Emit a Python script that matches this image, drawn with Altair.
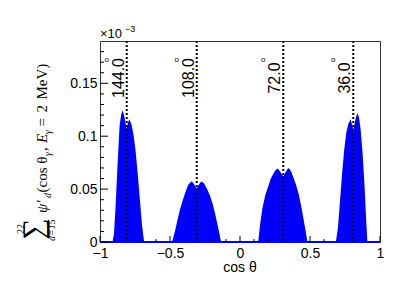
import altair as alt
import pandas as pd

# ---- data (values in units of 1e-3) ----
peak1_x = [-0.91, -0.90, -0.89, -0.875, -0.86, -0.848, -0.838, -0.825, -0.81, -0.80, -0.79, -0.775, -0.76, -0.745, -0.73, -0.715, -0.70, -0.685]
peak1_y = [0, 0.008, 0.030, 0.072, 0.110, 0.121, 0.1245, 0.118, 0.107, 0.113, 0.116, 0.111, 0.101, 0.085, 0.064, 0.040, 0.016, 0]
peak2_x = [-0.485, -0.465, -0.45, -0.43, -0.41, -0.39, -0.37, -0.345, -0.325, -0.309, -0.29, -0.274, -0.255, -0.235, -0.215, -0.195, -0.175, -0.155, -0.135]
peak2_y = [0, 0.010, 0.019, 0.030, 0.039, 0.047, 0.054, 0.0575, 0.054, 0.0505, 0.055, 0.0575, 0.055, 0.050, 0.044, 0.036, 0.025, 0.013, 0]
peak3_x = [0.13, 0.145, 0.16, 0.18, 0.2, 0.22, 0.24, 0.255, 0.27, 0.29, 0.309, 0.325, 0.345, 0.36, 0.38, 0.40, 0.42, 0.44, 0.46, 0.482]
peak3_y = [0, 0.018, 0.032, 0.044, 0.052, 0.060, 0.065, 0.068, 0.0695, 0.066, 0.062, 0.066, 0.070, 0.068, 0.0617, 0.054, 0.045, 0.032, 0.017, 0]
peak4_x = [0.685, 0.70, 0.715, 0.73, 0.745, 0.76, 0.775, 0.79, 0.81, 0.825, 0.838, 0.85, 0.862, 0.875, 0.89, 0.90, 0.91]
peak4_y = [0, 0.014, 0.040, 0.066, 0.088, 0.104, 0.112, 0.116, 0.106, 0.116, 0.122, 0.118, 0.106, 0.085, 0.052, 0.024, 0]

angles = [144.0, 108.0, 72.0, 36.0]
angle_labels = ["144.0", "108.0", "72.0", "36.0"]

y_major = [0, 0.05, 0.1, 0.15]
y_minor = [0.01, 0.02, 0.03, 0.04, 0.06, 0.07, 0.08, 0.09, 0.11, 0.12, 0.13, 0.14, 0.16, 0.17, 0.18]
x_major = [-1, -0.5, 0, 0.5, 1]
x_minor = [-0.9, -0.8, -0.7, -0.6, -0.4, -0.3, -0.2, -0.1, 0.1, 0.2, 0.3, 0.4, 0.6, 0.7, 0.8, 0.9]

xs = [-1.0] + peak1_x + peak2_x + peak3_x + peak4_x + [1.0]
ys = [0.0] + peak1_y + peak2_y + peak3_y + peak4_y + [0.0]
curve = pd.DataFrame({"c": xs, "v": ys})

W, H = 280, 201
XS = alt.Scale(domain=[-1, 1], nice=False, zero=False)
YS = alt.Scale(domain=[0, 0.19], nice=False)
SANS = "Liberation Sans"
SERIF = "Liberation Serif"
BLUE = "#0000ff"

area = alt.Chart(curve).mark_area(color=BLUE, interpolate="linear").encode(
    x=alt.X("c:Q", scale=XS, axis=alt.Axis(values=x_major, format="~g", title=None,
                                           labelPadding=4, labelFlush=False)),
    y=alt.Y("v:Q", scale=YS, axis=alt.Axis(values=y_major, format="~g", title=None,
                                           labelPadding=3, labelFlush=False)),
)

base_line = alt.Chart(curve).mark_rule(color=BLUE, strokeWidth=1.5).encode(
    y=alt.datum(0, scale=YS, axis=None)
)

ang_df = pd.DataFrame({"a": angles, "t": angle_labels})
ang = alt.Chart(ang_df).transform_calculate(cx="cos(datum.a*PI/180)")
dotted = ang.mark_rule(color="black", strokeDash=[2, 2], strokeWidth=2).encode(
    x=alt.X("cx:Q", scale=XS, axis=None)
)
ang_text = ang.mark_text(angle=270, align="center", baseline="bottom", font=SANS,
                         fontSize=16, dx=-1).encode(
    x=alt.X("cx:Q", scale=XS, axis=None), y=alt.value(36), text="t:N"
)
deg_text = ang.mark_text(align="center", baseline="middle", font=SANS, fontSize=8, dx=-20).encode(
    x=alt.X("cx:Q", scale=XS, axis=None), y=alt.value(19), text=alt.value("o")
)

def ticks_y(vals, length):
    return alt.Chart(pd.DataFrame({"v": vals})).mark_rule(color="black", strokeWidth=1).encode(
        y=alt.Y("v:Q", scale=YS, axis=None), x=alt.value(0), x2=alt.value(length)
    )

def ticks_x(vals, length):
    return alt.Chart(pd.DataFrame({"v": vals})).mark_rule(color="black", strokeWidth=1).encode(
        x=alt.X("v:Q", scale=XS, axis=None), y=alt.value(H), y2=alt.value(H - length)
    )

one = pd.DataFrame({"k": [0]})

def label(text, x, y, size, font=SANS, angle=0, align="left", baseline="alphabetic", style="normal"):
    return alt.Chart(one).mark_text(text=text, font=font, fontSize=size, angle=angle, align=align,
                                    baseline=baseline, fontStyle=style, color="black").encode(
        x=alt.value(x), y=alt.value(y)
    )

annots = [
    label("\u00d710", 0, -3, 13),
    label("\u22123", 25, -9, 9),
    label("cos \u03b8", 140, 231, 14, align="center"),
    # y-axis title pieces (rotated)
    label("\u2211", -66, 188, 30, font=SERIF, angle=270, align="center", baseline="middle"),
    label("22", -79, 188, 10, font=SERIF, angle=270, align="center", baseline="middle"),
    label("d=15", -48, 189, 10, font=SERIF, angle=270, align="center", baseline="middle", style="italic"),
    label("\u03c8\u2032", -53, 172, 15, font=SERIF, angle=270, style="italic"),
    label("d", -49, 157, 10, font=SERIF, angle=270, style="italic"),
    label("(cos \u03b8", -53, 151.5, 15, font=SERIF, angle=270),
    label("\u03b3", -49, 115, 10, font=SERIF, angle=270, style="italic"),
    label(",", -53, 110, 15, font=SERIF, angle=270),
    label("E", -53, 102, 15, font=SERIF, angle=270, style="italic"),
    label("\u03b3", -49, 93, 10, font=SERIF, angle=270, style="italic"),
    label("=", -53, 85.5, 15, font=SERIF, angle=270),
    label("2", -53, 71.5, 15, font=SERIF, angle=270),
    label("MeV)", -53, 58.5, 15, font=SERIF, angle=270),
]

chart = alt.layer(
    area, base_line, dotted,
    ticks_y(y_major, 8), ticks_y(y_minor, 4), ticks_x(x_major, 6), ticks_x(x_minor, 3),
    ang_text, deg_text, *annots
).resolve_axis(
    x="independent", y="independent"
).properties(
    width=W, height=H,
    autosize=alt.AutoSizeParams(type="none"),
    padding={"left": 92, "top": 33, "right": 19, "bottom": 54},
).configure_view(
    stroke="#333", strokeWidth=1
).configure_axis(
    labelFont=SANS, labelFontSize=14, labelColor="black", ticks=False, domain=False, grid=False
)

chart.save("out.html", embed_options={"renderer": "svg", "actions": False})
